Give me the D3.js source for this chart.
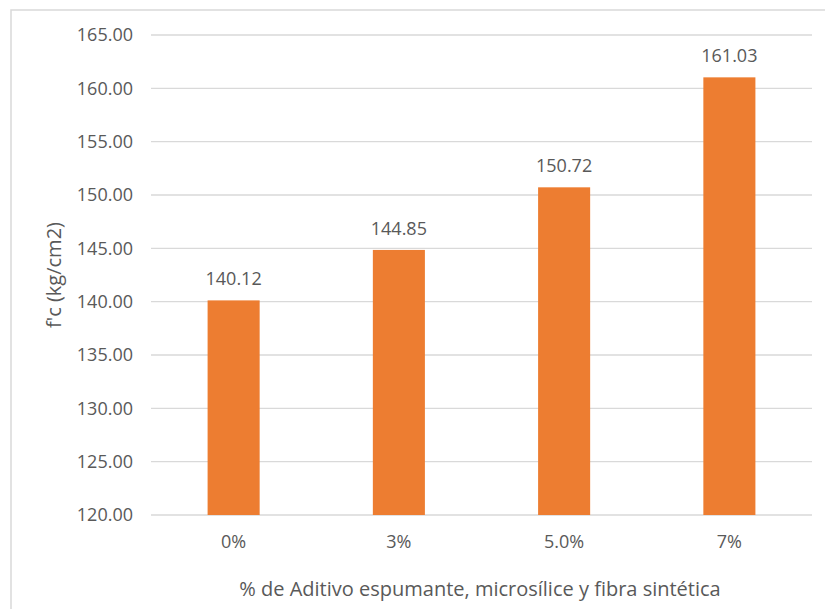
<!DOCTYPE html>
<html>
<head>
<meta charset="utf-8">
<script src="https://cdn.jsdelivr.net/npm/d3@7/dist/d3.min.js"></script>
<style>
  html, body { margin: 0; padding: 0; background: #ffffff; }
  svg { display: block; }
  text { font-family: "Open Sans", "Noto Sans", sans-serif; fill: #595959; }
</style>
</head>
<body>
<script>
// Compressive strength by additive percentage
const categories = ["0%", "3%", "5.0%", "7%"];
const values = [140.12, 144.85, 150.72, 161.03];
const yTicks = [120, 125, 130, 135, 140, 145, 150, 155, 160, 165];
const yTitle = "f'c (kg/cm2)";
const xTitle = "% de Aditivo espumante, microsílice y fibra sintética";

const W = 825, H = 609;
const plot = { left: 151, right: 812, top: 35, bottom: 515 };

const svg = d3.select("body").append("svg")
  .attr("width", W).attr("height", H);

// Chart frame
svg.append("rect")
  .attr("x", 11).attr("y", 10)
  .attr("width", 840).attr("height", 640)
  .attr("fill", "#ffffff")
  .attr("stroke", "#d9d9d9").attr("stroke-width", 1.5);

const x = d3.scaleBand()
  .domain(categories)
  .range([plot.left, plot.right])
  .paddingInner(0.685)
  .paddingOuter(0.3425);

const y = d3.scaleLinear()
  .domain([120, 165])
  .range([plot.bottom, plot.top]);

// Horizontal gridlines
svg.append("g")
  .selectAll("line")
  .data(yTicks)
  .join("line")
  .attr("x1", plot.left).attr("x2", plot.right)
  .attr("y1", d => y(d)).attr("y2", d => y(d))
  .attr("stroke", "#d9d9d9").attr("stroke-width", 1.3);

// Y axis labels
const yAxis = d3.axisLeft(y)
  .tickValues(yTicks)
  .tickFormat(d3.format(".2f"))
  .tickSize(0)
  .tickPadding(18);
const gy = svg.append("g")
  .attr("transform", `translate(${plot.left},0)`)
  .call(yAxis);
gy.select(".domain").remove();
gy.selectAll("text")
  .attr("font-size", 18)
  .attr("font-family", "'Open Sans', 'Noto Sans', sans-serif")
  .attr("fill", "#595959");

// X axis labels
const xAxis = d3.axisBottom(x).tickSize(0).tickPadding(20);
const gx = svg.append("g")
  .attr("transform", `translate(0,${plot.bottom})`)
  .call(xAxis);
gx.select(".domain").remove();
gx.selectAll("text")
  .attr("font-size", 18)
  .attr("font-family", "'Open Sans', 'Noto Sans', sans-serif")
  .attr("fill", "#595959");

// Bars
svg.append("g")
  .selectAll("rect")
  .data(values)
  .join("rect")
  .attr("x", (d, i) => x(categories[i]))
  .attr("width", x.bandwidth())
  .attr("y", d => y(d))
  .attr("height", d => y(120) - y(d))
  .attr("fill", "#ED7D31");

// Value labels
svg.append("g")
  .selectAll("text")
  .data(values)
  .join("text")
  .attr("x", (d, i) => x(categories[i]) + x.bandwidth() / 2)
  .attr("y", d => y(d) - 15)
  .attr("text-anchor", "middle")
  .attr("font-size", 18)
  .text(d => d3.format(".2f")(d));

// Axis titles
svg.append("text")
  .attr("transform", `translate(61,${(plot.top + plot.bottom) / 2}) rotate(-90)`)
  .attr("text-anchor", "middle")
  .attr("font-size", 20)
  .text(yTitle);

svg.append("text")
  .attr("x", 480).attr("y", 596)
  .attr("text-anchor", "middle")
  .attr("font-size", 20)
  .text(xTitle);
</script>
</body>
</html>
